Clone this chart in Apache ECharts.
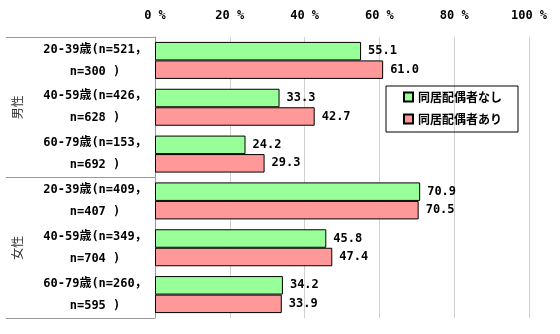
<!DOCTYPE html>
<html>
<head>
<meta charset="utf-8">
<script src="https://cdn.jsdelivr.net/npm/echarts@6/dist/echarts.min.js"></script>
<style>
  html, body { margin: 0; padding: 0; background: #fff; }
  #chart { width: 560px; height: 334px; }
</style>
</head>
<body>
<div id="chart"></div>
<script>
// Age bands, two-line labels with sample sizes (without / with spouse)
const categories = [
  '20-39歳(n=521，\nn=300 )',
  '40-59歳(n=426，\nn=628 )',
  '60-79歳(n=153，\nn=692 )',
  '20-39歳(n=409，\nn=407 )',
  '40-59歳(n=349，\nn=704 )',
  '60-79歳(n=260，\nn=595 )'
];
const groups = ['男性', '女性'];
const seriesNames = ['同居配偶者なし', '同居配偶者あり'];
const withoutSpouse = [55.1, 33.3, 24.2, 70.9, 45.8, 34.2];
const withSpouse = [61.0, 42.7, 29.3, 70.5, 47.4, 33.9];
const tickValues = [0, 20, 40, 60, 80, 100];

const MONO = '"DejaVu Sans Mono", "Noto Sans CJK JP", monospace';
const CJK = '"Noto Sans CJK JP", sans-serif';

const chart = echarts.init(document.getElementById('chart'), null, { renderer: 'canvas' });

const barLabel = {
  show: true,
  position: 'right',
  distance: 7,
  color: '#000',
  fontFamily: MONO,
  fontWeight: 'bold',
  fontSize: 12,
  formatter: p => p.value.toFixed(1)
};

chart.setOption({
  animation: false,
  backgroundColor: '#fff',
  grid: { left: 155, right: 31, top: 37, bottom: 16, containLabel: false },
  legend: {
    orient: 'vertical',
    left: 386,
    top: 86,
    padding: [5, 16, 7, 17],
    itemGap: 10,
    itemWidth: 9,
    itemHeight: 9,
    borderColor: '#000',
    borderWidth: 1,
    icon: 'rect',
    data: seriesNames,
    textStyle: { fontFamily: CJK, fontWeight: 'bold', fontSize: 12, color: '#000' }
  },
  xAxis: {
    type: 'value',
    position: 'top',
    min: tickValues[0],
    max: tickValues[tickValues.length - 1],
    interval: 20,
    axisLine: { show: false },
    axisTick: { show: false },
    splitLine: { show: true, lineStyle: { color: '#d0d0d0', width: 1 } },
    axisLabel: {
      margin: 15,
      color: '#000',
      fontFamily: MONO,
      fontWeight: 'bold',
      fontSize: 12,
      formatter: v => v + ' %'
    }
  },
  yAxis: [
    {
      type: 'category',
      inverse: true,
      data: categories,
      axisLine: { show: true, lineStyle: { color: '#999', width: 1 } },
      axisTick: { show: false },
      axisLabel: {
        margin: 60,
        align: 'center',
        lineHeight: 22,
        color: '#000',
        fontFamily: MONO,
        fontWeight: 'bold',
        fontSize: 12
      }
    },
    {
      type: 'category',
      inverse: true,
      position: 'left',
      data: groups,
      axisLine: { show: false },
      axisTick: { show: true, length: 149, lineStyle: { color: '#999', width: 1 } },
      axisLabel: {
        margin: 132,
        rotate: 90,
        color: '#333',
        fontFamily: CJK,
        fontSize: 12
      }
    }
  ],
  series: [
    {
      name: seriesNames[0],
      type: 'bar',
      data: withoutSpouse,
      barGap: '0%',
      barCategoryGap: '21%',
      itemStyle: { color: '#99ff99', borderColor: '#000', borderWidth: 1 },
      label: barLabel
    },
    {
      name: seriesNames[1],
      type: 'bar',
      data: withSpouse,
      barGap: '0%',
      barCategoryGap: '21%',
      itemStyle: { color: '#ff9999', borderColor: '#000', borderWidth: 1 },
      label: barLabel
    }
  ]
});
</script>
</body>
</html>
